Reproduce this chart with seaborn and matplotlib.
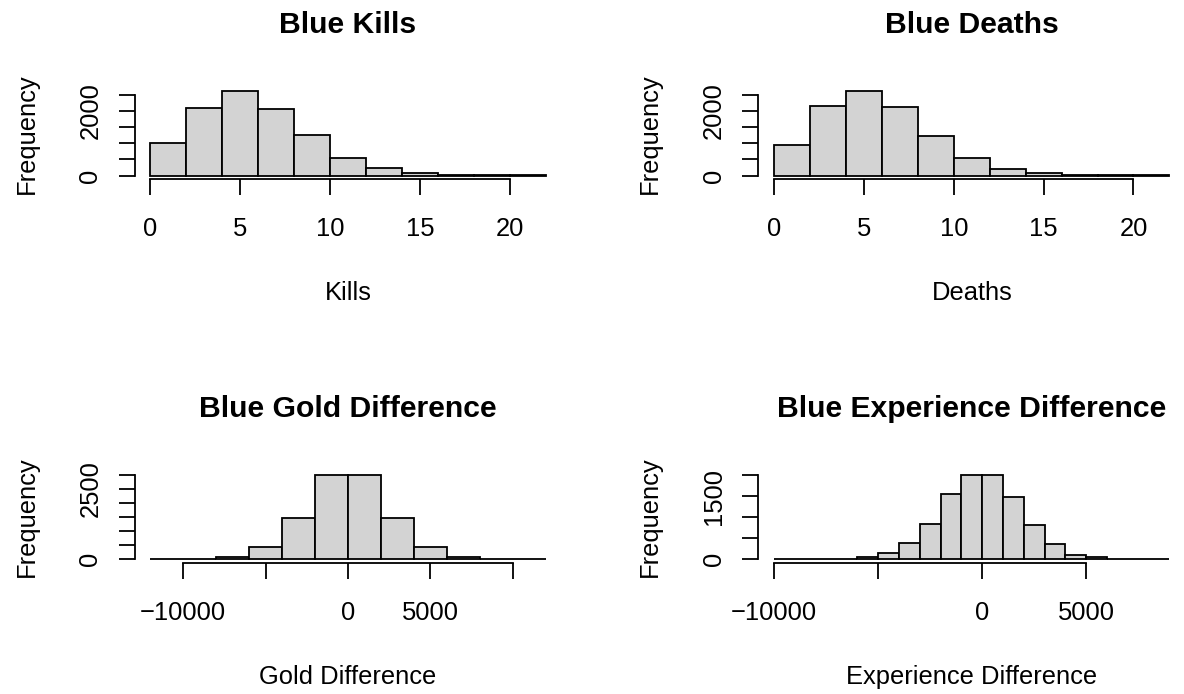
import numpy as np
import pandas as pd
import matplotlib
matplotlib.use("Agg")
import matplotlib.pyplot as plt
import seaborn as sns

# ---- histogram data (bin edges and counts per bin) ----
kills_edges = [0, 2, 4, 6, 8, 10, 12, 14, 16, 18, 20, 22]
kills_counts = [998, 2092, 2619, 2071, 1250, 548, 235, 85, 30, 10, 4]

deaths_edges = [0, 2, 4, 6, 8, 10, 12, 14, 16, 18, 20, 22]
deaths_counts = [941, 2140, 2620, 2125, 1230, 548, 196, 72, 30, 10, 4]

gold_edges = [-12000, -10000, -8000, -6000, -4000, -2000, 0,
              2000, 4000, 6000, 8000, 10000, 12000]
gold_counts = [1, 6, 80, 435, 1470, 2995, 2990, 1475, 430, 85, 12, 2]

exp_edges = list(range(-10000, 9001, 1000))
exp_counts = [1, 2, 5, 8, 50, 160, 399, 845, 1552, 2005, 2000, 1488,
              824, 360, 104, 48, 15, 4, 1]

# ---- axis ticks and which tick labels are printed ----
kills_xticks = [0, 5, 10, 15, 20]
kills_xlabels = ["0", "5", "10", "15", "20"]
kills_yticks = [0, 500, 1000, 1500, 2000, 2500]
kills_ylabels = ["0", "", "", "", "2000", ""]

deaths_xticks = [0, 5, 10, 15, 20]
deaths_xlabels = ["0", "5", "10", "15", "20"]
deaths_yticks = [0, 500, 1000, 1500, 2000, 2500]
deaths_ylabels = ["0", "", "", "", "2000", ""]

gold_xticks = [-10000, -5000, 0, 5000, 10000]
gold_xlabels = ["\u221210000", "", "0", "5000", ""]
gold_yticks = [0, 500, 1000, 1500, 2000, 2500, 3000]
gold_ylabels = ["0", "", "", "", "", "2500", ""]

exp_xticks = [-10000, -5000, 0, 5000]
exp_xlabels = ["\u221210000", "", "0", "5000"]
exp_yticks = [0, 500, 1000, 1500, 2000]
exp_ylabels = ["0", "", "", "1500", ""]

titles = ["Blue Kills", "Blue Deaths", "Blue Gold Difference",
          "Blue Experience Difference"]
xlabels = ["Kills", "Deaths", "Gold Difference", "Experience Difference"]

sns.set_theme(style="white")
plt.rcParams["font.family"] = ["Liberation Sans", "DejaVu Sans"]
plt.rcParams["text.color"] = "black"
plt.rcParams["axes.labelcolor"] = "black"

W, H = 1184, 694
fig = plt.figure(figsize=(W / 100, H / 100), dpi=100)
fig.patch.set_facecolor("white")

# plot regions in pixels: (left, top, right, bottom)
regions = [
    (134.5, 87.6, 561.5, 178.9),
    (758.3, 87.6, 1185.2, 178.9),
    (134.5, 471.5, 561.5, 562.7),
    (758.3, 471.5, 1185.2, 562.7),
]

panels = [
    (kills_edges, kills_counts, kills_xticks, kills_xlabels, kills_yticks, kills_ylabels),
    (deaths_edges, deaths_counts, deaths_xticks, deaths_xlabels, deaths_yticks, deaths_ylabels),
    (gold_edges, gold_counts, gold_xticks, gold_xlabels, gold_yticks, gold_ylabels),
    (exp_edges, exp_counts, exp_xticks, exp_xlabels, exp_yticks, exp_ylabels),
]

BASE = 18.4
TITLE = 21.7
LW = 1.3

for i, ((edges, counts, xt, xl, yt, yl), (l, t, r, b)) in enumerate(zip(panels, regions)):
    ax = fig.add_axes([l / W, 1 - b / H, (r - l) / W, (b - t) / H])
    mids = [(lo + hi) / 2 for lo, hi in zip(edges[:-1], edges[1:])]
    df = pd.DataFrame({"value": mids, "count": counts})
    sns.histplot(data=df, x="value", weights="count", bins=list(edges), ax=ax,
                 color="#D3D3D3", edgecolor="black", linewidth=LW, alpha=1)

    # ranges padded by 4% on each side
    span = edges[-1] - edges[0]
    top = max(counts)
    ax.set_xlim(edges[0] - 0.04 * span, edges[-1] + 0.04 * span)
    ax.set_ylim(-0.04 * top, 1.04 * top)

    for s in ("top", "right"):
        ax.spines[s].set_visible(False)
    for s in ("bottom", "left"):
        ax.spines[s].set_visible(True)
        ax.spines[s].set_color("black")
        ax.spines[s].set_linewidth(LW)
    ax.spines["bottom"].set_bounds(xt[0], xt[-1])
    ax.spines["left"].set_bounds(yt[0], yt[-1])

    ax.set_xticks(xt, xl)
    ax.set_yticks(yt, yl)
    ax.tick_params(axis="both", direction="out", length=11.5, width=LW,
                   color="black", labelsize=BASE, labelcolor="black",
                   bottom=True, left=True)
    ax.tick_params(axis="x", pad=16)
    ax.tick_params(axis="y", pad=11.6, labelrotation=90)
    for lab in ax.get_yticklabels():
        lab.set_verticalalignment("center")

    ax.set_xlabel(xlabels[i], fontsize=BASE, labelpad=29, color="black")
    ax.set_ylabel("Frequency", fontsize=BASE, labelpad=28.8, color="black")
    ax.set_title(titles[i], fontsize=TITLE, fontweight="bold", pad=39,
                 color="black")
    ax.grid(False)

fig.savefig("out.png", dpi=100, facecolor="white")
